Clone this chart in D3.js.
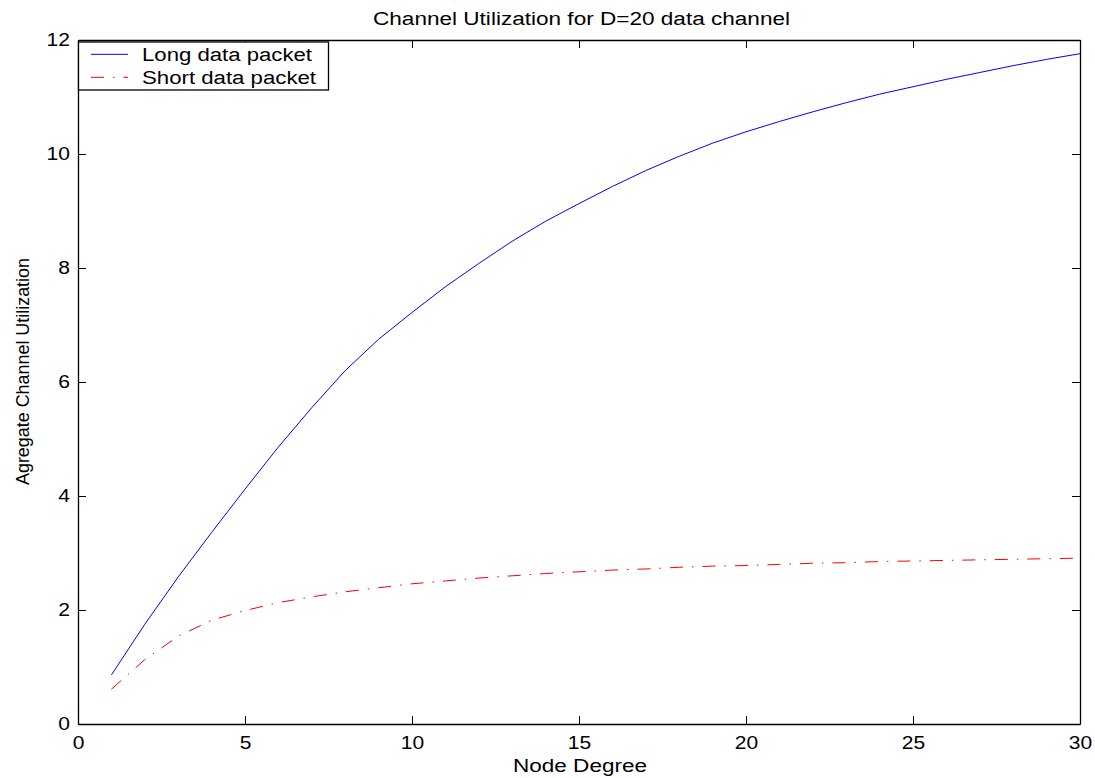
<!DOCTYPE html>
<html>
<head>
<meta charset="utf-8">
<script src="https://cdn.jsdelivr.net/npm/d3@7"></script>
<style>
  body { margin: 0; background: #fff; }
  text { font-family: "Liberation Sans", Arial, sans-serif; fill: #000; }
</style>
</head>
<body>
<svg width="1095" height="778"></svg>
<script>
var width = 1095;
var height = 778;

// node degree 1..30
var degrees = [1, 2, 3, 4, 5, 6, 7, 8, 9, 10, 11, 12, 13, 14, 15,
    16, 17, 18, 19, 20, 21, 22, 23, 24, 25, 26, 27, 28, 29, 30];
var longPacket = [0.86, 1.75, 2.58, 3.36, 4.12, 4.86, 5.55, 6.20, 6.75, 7.22,
    7.67, 8.08, 8.47, 8.82, 9.13, 9.43, 9.71, 9.96, 10.19, 10.39,
    10.57, 10.74, 10.90, 11.05, 11.18, 11.31, 11.43, 11.55, 11.66, 11.76];
var shortPacket = [0.61, 1.13, 1.54, 1.82, 1.99, 2.13, 2.23, 2.32, 2.39, 2.46,
    2.51, 2.56, 2.60, 2.64, 2.67, 2.70, 2.72, 2.75, 2.77, 2.78,
    2.80, 2.82, 2.83, 2.85, 2.86, 2.87, 2.88, 2.89, 2.90, 2.91];
var xTicks = [0, 5, 10, 15, 20, 25, 30];
var yTicks = [0, 2, 4, 6, 8, 10, 12];
var seriesNames = ["Long data packet", "Short data packet"];

// plot box (note: "top" is reserved on window, so use other names)
var plotLeft = 78, plotRight = 1080, plotTop = 40, plotBottom = 724;

var x = d3.scaleLinear().domain([0, 30]).range([plotLeft, plotRight]);
var y = d3.scaleLinear().domain([0, 12]).range([plotBottom, plotTop]);

var chart = d3.select("svg");

// ticks on all four sides, pointing inward
chart.append("g")
    .attr("transform", "translate(0," + plotBottom + ")")
    .call(d3.axisBottom(x).tickValues(xTicks).tickSizeInner(-8).tickSizeOuter(0).tickPadding(12))
    .call(styleAxis);
chart.append("g")
    .attr("transform", "translate(0," + plotTop + ")")
    .call(d3.axisTop(x).tickValues(xTicks).tickSizeInner(-8).tickSizeOuter(0).tickFormat(""))
    .call(styleAxis);
chart.append("g")
    .attr("transform", "translate(" + plotLeft + ",0)")
    .call(d3.axisLeft(y).tickValues(yTicks).tickSizeInner(-8).tickSizeOuter(0).tickPadding(8))
    .call(styleAxis);
chart.append("g")
    .attr("transform", "translate(" + plotRight + ",0)")
    .call(d3.axisRight(y).tickValues(yTicks).tickSizeInner(-8).tickSizeOuter(0).tickFormat(""))
    .call(styleAxis);

function styleAxis(g) {
    g.select(".domain").attr("stroke", "#000").attr("stroke-width", 1.3);
    g.selectAll(".tick line").attr("stroke", "#000").attr("stroke-width", 1);
    g.selectAll(".tick text")
        .attr("font-family", "Liberation Sans, Arial, sans-serif")
        .attr("font-size", "18px")
        .attr("fill", "#000")
        .attr("lengthAdjust", "spacingAndGlyphs")
        .attr("textLength", function () { return this.textContent.length * 11.7; });
}

// lines
var line = d3.line()
    .x(function (d, i) { return x(degrees[i]); })
    .y(function (d) { return y(d); });

chart.append("path")
    .datum(longPacket)
    .attr("fill", "none")
    .attr("stroke", "#0000ff")
    .attr("stroke-width", 1)
    .attr("d", line);

chart.append("path")
    .datum(shortPacket)
    .attr("fill", "none")
    .attr("stroke", "#ff0000")
    .attr("stroke-width", 1)
    .attr("stroke-dasharray", "13,9,1.5,9")
    .attr("d", line);

// title and axis labels
chart.append("text")
    .attr("x", 581.5)
    .attr("y", 25)
    .attr("text-anchor", "middle")
    .attr("font-size", "18px")
    .attr("textLength", 417)
    .attr("lengthAdjust", "spacingAndGlyphs")
    .text("Channel Utilization for D=20 data channel");

chart.append("text")
    .attr("x", 580)
    .attr("y", 772)
    .attr("text-anchor", "middle")
    .attr("font-size", "18px")
    .attr("textLength", 134)
    .attr("lengthAdjust", "spacingAndGlyphs")
    .text("Node Degree");

chart.append("text")
    .attr("transform", "translate(29,371.5) rotate(-90)")
    .attr("text-anchor", "middle")
    .attr("font-size", "18px")
    .attr("textLength", 227)
    .attr("lengthAdjust", "spacingAndGlyphs")
    .text("Agregate Channel Utilization");

// legend
var legend = chart.append("g");
legend.append("rect")
    .attr("x", 78.5)
    .attr("y", 42)
    .attr("width", 250)
    .attr("height", 48)
    .attr("fill", "#fff")
    .attr("stroke", "#000")
    .attr("stroke-width", 1.3);

var legendColors = ["#0000ff", "#ff0000"];
var legendDash = [null, "13,9,1.5,9"];
var legendTextWidth = [170, 174];
seriesNames.forEach(function (name, i) {
    var ly = 54.3 + i * 23;
    legend.append("line")
        .attr("x1", 91).attr("x2", 128)
        .attr("y1", ly).attr("y2", ly)
        .attr("stroke", legendColors[i])
        .attr("stroke-width", 1)
        .attr("stroke-dasharray", legendDash[i]);
    legend.append("text")
        .attr("x", 142)
        .attr("y", ly + 6.5)
        .attr("font-size", "18px")
        .attr("textLength", legendTextWidth[i])
        .attr("lengthAdjust", "spacingAndGlyphs")
        .text(name);
});
</script>
</body>
</html>
